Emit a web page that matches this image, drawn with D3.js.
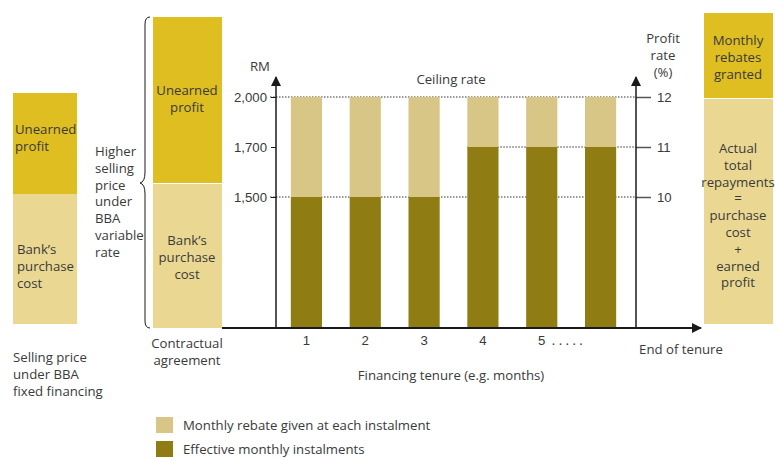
<!DOCTYPE html>
<html>
<head>
<meta charset="utf-8">
<script src="https://cdn.jsdelivr.net/npm/d3@7"></script>
<style>
  body { margin: 0; background: #fff; }
  svg { display: block; font-family: "Open Sans", "Noto Sans", sans-serif; }
  text { fill: #3a3a3a; font-size: 13.2px; }
</style>
</head>
<body>
<svg id="chart" width="775" height="458"></svg>
<script>
// Monthly instalment schedule under BBA variable-rate financing
const months = ["1", "2", "3", "4", "5", "6"];
const monthLabels = ["1", "2", "3", "4", "5", ""];
const instalments = [1500, 1500, 1500, 1700, 1700, 1700];   // effective instalment (RM)
const ceilingPayment = 2000;                                  // instalment at ceiling rate (RM)
const rmTicks = [1500, 1700, 2000];
const rateTicks = [10, 11, 12];
const rmRateLevels = [1500, 1700, 2000];                      // RM level matching each profit rate

const FONT = 13.2;
const LINE = 16.8;
const colors = {
  unearned: "#dfbe22",
  cost: "#ead892",
  rebate: "#d8c687",
  instal: "#8f7c12",
  ink: "#1a1a1a"
};

const svg = d3.select("#chart");

// Scales: the RM axis is schematic, so 1,500 / 1,700 / 2,000 sit on the 10 / 11 / 12 % rate grid
const rate = d3.scaleLinear().domain([10, 12]).range([197, 97]);
const rm = d3.scaleLinear()
  .domain([0, ...rmRateLevels])
  .range([328, ...rateTicks.map(rate)]);
const x = d3.scaleBand().domain(months).range([277, 630]).paddingInner(0.47).paddingOuter(0.235);

// Arrow marker for the axes
const defs = svg.append("defs");
defs.append("marker").attr("id", "arrowBig").attr("viewBox", "0 0 10 10")
  .attr("refX", 9).attr("refY", 5).attr("markerWidth", 14).attr("markerHeight", 10)
  .attr("markerUnits", "userSpaceOnUse").attr("orient", "auto")
  .append("path").attr("d", "M0,0 L10,5 L0,10 Z").attr("fill", colors.ink);

// Helper for multi-line text blocks
function block(lines, x0, y0, lh, anchor) {
  const t = svg.append("text").attr("text-anchor", anchor || "start");
  lines.forEach((s, i) => t.append("tspan").attr("x", x0).attr("y", y0 + i * lh).text(s));
  return t;
}

// Left column: selling price under fixed financing
svg.append("rect").attr("x", 13).attr("y", 93).attr("width", 64).attr("height", 101).attr("fill", colors.unearned);
svg.append("rect").attr("x", 13).attr("y", 194).attr("width", 64).attr("height", 130).attr("fill", colors.cost);
block(["Unearned", "profit"], 15, 134, 17);
block(["Bank’s", "purchase", "cost"], 17, 254, 17);
block(["Selling price", "under BBA", "fixed financing"], 13, 362, 17);

// Higher selling price under variable rate, with brace
block(["Higher", "selling", "price", "under", "BBA", "variable", "rate"], 95, 156, LINE);
svg.append("path")
  .attr("d", "M150,17 Q145,17 145,24 L145,172 Q145,182 140,183 Q145,184 145,194 L145,321 Q145,328 150,328")
  .attr("fill", "none").attr("stroke", colors.ink).attr("stroke-width", 1);

// Contractual agreement column
svg.append("rect").attr("x", 153).attr("y", 17).attr("width", 69).attr("height", 166).attr("fill", colors.unearned);
svg.append("rect").attr("x", 153).attr("y", 184).attr("width", 69).attr("height", 144).attr("fill", colors.cost);
block(["Unearned", "profit"], 187, 95, 17, "middle");
block(["Bank’s", "purchase", "cost"], 187, 245, 17, "middle");
block(["Contractual", "agreement"], 187, 348, 17, "middle");

// Dotted reference lines at the ceiling, the 11% rate and the floor instalment
const dotted = [
  { y: rm(2000), x1: 270 },
  { y: rm(1700), x1: x("4") },
  { y: rm(1500), x1: 270 }
];
svg.selectAll(".ref").data(dotted).join("line")
  .attr("x1", d => d.x1).attr("x2", 636)
  .attr("y1", d => d.y).attr("y2", d => d.y)
  .attr("stroke", "#333").attr("stroke-width", 1).attr("stroke-dasharray", "1.5,1.5");

// Stacked bars: effective instalment + rebate up to the ceiling
const bars = svg.append("g");
bars.selectAll(".instal").data(instalments).join("rect")
  .attr("x", (d, i) => x(months[i])).attr("width", x.bandwidth())
  .attr("y", d => rm(d)).attr("height", d => rm(0) - rm(d))
  .attr("fill", colors.instal);
bars.selectAll(".rebate").data(instalments).join("rect")
  .attr("x", (d, i) => x(months[i])).attr("width", x.bandwidth())
  .attr("y", rm(ceilingPayment)).attr("height", d => rm(d) - rm(ceilingPayment))
  .attr("fill", colors.rebate);

// Left RM axis
const leftAxis = svg.append("g").attr("transform", "translate(276,0)")
  .call(d3.axisLeft(rm).tickValues(rmTicks).tickFormat(d3.format(",")).tickSize(5).tickPadding(4));
leftAxis.select(".domain").remove();
leftAxis.selectAll("line").attr("stroke", colors.ink);
leftAxis.selectAll("text").attr("font-size", FONT).attr("fill", "#3a3a3a").attr("font-family", null);
svg.append("line").attr("x1", 276).attr("x2", 276).attr("y1", 329).attr("y2", 77)
  .attr("stroke", colors.ink).attr("stroke-width", 1.5).attr("marker-end", "url(#arrowBig)");
svg.append("text").attr("x", 260).attr("y", 71).attr("text-anchor", "middle").text("RM");

// Right profit-rate axis
const rightAxis = svg.append("g").attr("transform", "translate(636,0)")
  .call(d3.axisRight(rate).tickValues(rateTicks).tickFormat(d3.format("d")).tickSize(15).tickPadding(6));
rightAxis.select(".domain").remove();
rightAxis.selectAll("line").attr("stroke", "#555").attr("stroke-width", 1.5);
rightAxis.selectAll("text").attr("font-size", FONT).attr("fill", "#3a3a3a").attr("font-family", null);
svg.append("line").attr("x1", 636).attr("x2", 636).attr("y1", 329).attr("y2", 77)
  .attr("stroke", colors.ink).attr("stroke-width", 1.5).attr("marker-end", "url(#arrowBig)");
block(["Profit", "rate", "(%)"], 663, 43, LINE, "middle");

svg.append("text").attr("x", 451).attr("y", 84).attr("text-anchor", "middle").text("Ceiling rate");

// Bottom tenure axis
const bottomAxis = svg.append("g").attr("transform", "translate(0,328)")
  .call(d3.axisBottom(x).tickSize(0).tickPadding(8).tickFormat((d, i) => monthLabels[i]));
bottomAxis.select(".domain").remove();
bottomAxis.selectAll("text").attr("font-size", FONT).attr("fill", "#3a3a3a").attr("font-family", null);
svg.append("text").attr("x", x("5") + x.bandwidth() / 2 + 10).attr("y", 345).text(". . . . .");
svg.append("line").attr("x1", 222).attr("x2", 701).attr("y1", 328).attr("y2", 328)
  .attr("stroke", colors.ink).attr("stroke-width", 2).attr("marker-end", "url(#arrowBig)");
svg.append("text").attr("x", 681).attr("y", 354).attr("text-anchor", "middle").text("End of tenure");
svg.append("text").attr("x", 451).attr("y", 380).attr("text-anchor", "middle").text("Financing tenure (e.g. months)");

// Right column: actual repayments at end of tenure
svg.append("rect").attr("x", 704).attr("y", 13).attr("width", 69).attr("height", 85).attr("fill", colors.unearned);
svg.append("rect").attr("x", 704).attr("y", 99).attr("width", 69).attr("height", 225).attr("fill", colors.cost);
block(["Monthly", "rebates", "granted"], 738, 45, LINE, "middle");
block(["Actual", "total", "repayments", "=", "purchase", "cost", "+", "earned", "profit"], 738, 153, LINE, "middle");

// Legend
const legend = [
  { label: "Monthly rebate given at each instalment", color: colors.rebate },
  { label: "Effective monthly instalments", color: colors.instal }
];
const lg = svg.selectAll(".legend").data(legend).join("g")
  .attr("transform", (d, i) => `translate(156,${417 + i * 24})`);
lg.append("rect").attr("width", 17).attr("height", 16).attr("fill", d => d.color);
lg.append("text").attr("x", 27).attr("y", 13).text(d => d.label);
</script>
</body>
</html>
